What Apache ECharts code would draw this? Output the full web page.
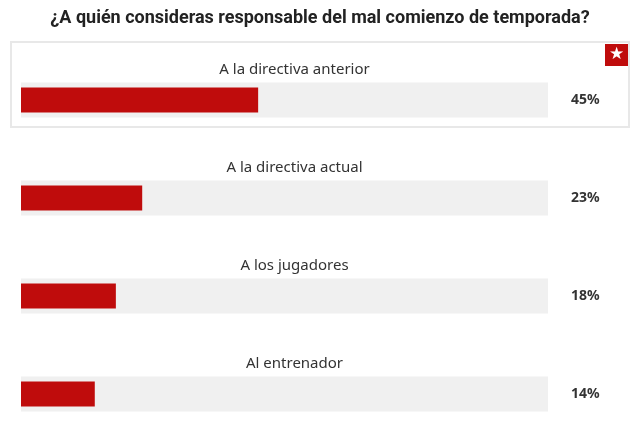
<!DOCTYPE html>
<html>
<head>
<meta charset="utf-8">
<script src="https://cdn.jsdelivr.net/npm/echarts@6/dist/echarts.min.js"></script>
<style>
  html, body { margin: 0; padding: 0; background: #fff; }
  #chart { width: 640px; height: 425px; }
</style>
</head>
<body>
<div id="chart"></div>
<script>
// opciones de la encuesta
var categories = ['A la directiva anterior', 'A la directiva actual', 'A los jugadores', 'Al entrenador'];
var values = [45, 23, 18, 14];   // porcentaje de votos
var trackMax = [100, 100, 100, 100];

var chart = echarts.init(document.getElementById('chart'));
var red = '#bf0c0c';

var option = {
  animation: false,
  title: {
    text: '¿A quién consideras responsable del mal comienzo de temporada?',
    left: 'center',
    top: 4,
    textStyle: {
      fontFamily: 'Roboto',
      fontSize: 18,
      fontWeight: 'bold',
      color: '#222'
    }
  },
  grid: {
    left: 21,
    width: 527,
    top: 100,
    height: 294
  },
  xAxis: {
    type: 'value',
    min: 0,
    max: 100,
    show: false
  },
  yAxis: [
    {
      type: 'category',
      data: categories,
      inverse: true,
      boundaryGap: false,
      show: false
    },
    {
      type: 'category',
      data: categories,
      inverse: true,
      boundaryGap: false,
      position: 'right',
      axisLine: { show: false },
      axisTick: { show: false },
      axisLabel: {
        margin: 23,
        fontFamily: 'Noto Sans',
        fontSize: 14,
        fontWeight: 'bold',
        color: '#333',
        formatter: function (v, i) { return values[i] + '%'; }
      }
    }
  ],
  series: [
    {
      type: 'bar',
      yAxisIndex: 0,
      data: trackMax,
      barWidth: 35,
      silent: true,
      itemStyle: { color: '#f0f0f0' },
      label: {
        show: true,
        position: 'top',
        distance: 5,
        offset: [10, 0],
        fontFamily: 'Noto Sans',
        fontSize: 15,
        color: '#333',
        formatter: function (p) { return categories[p.dataIndex]; }
      }
    },
    {
      type: 'bar',
      yAxisIndex: 1,
      data: values,
      barWidth: 25,
      itemStyle: { color: red }
    }
  ],
  graphic: [
    {
      type: 'rect',
      shape: { x: 11, y: 42, width: 618, height: 85 },
      style: { fill: 'none', stroke: '#e8e8e8', lineWidth: 2 },
      z: -1
    },
    {
      type: 'rect',
      shape: { x: 605, y: 44, width: 23, height: 22 },
      style: { fill: red }
    },
    {
      type: 'text',
      x: 616.5,
      y: 55,
      style: {
        text: '★',
        fontFamily: 'DejaVu Sans',
        fontSize: 17,
        fill: '#fff',
        align: 'center',
        verticalAlign: 'middle'
      }
    }
  ]
};

chart.setOption(option);
</script>
</body>
</html>
